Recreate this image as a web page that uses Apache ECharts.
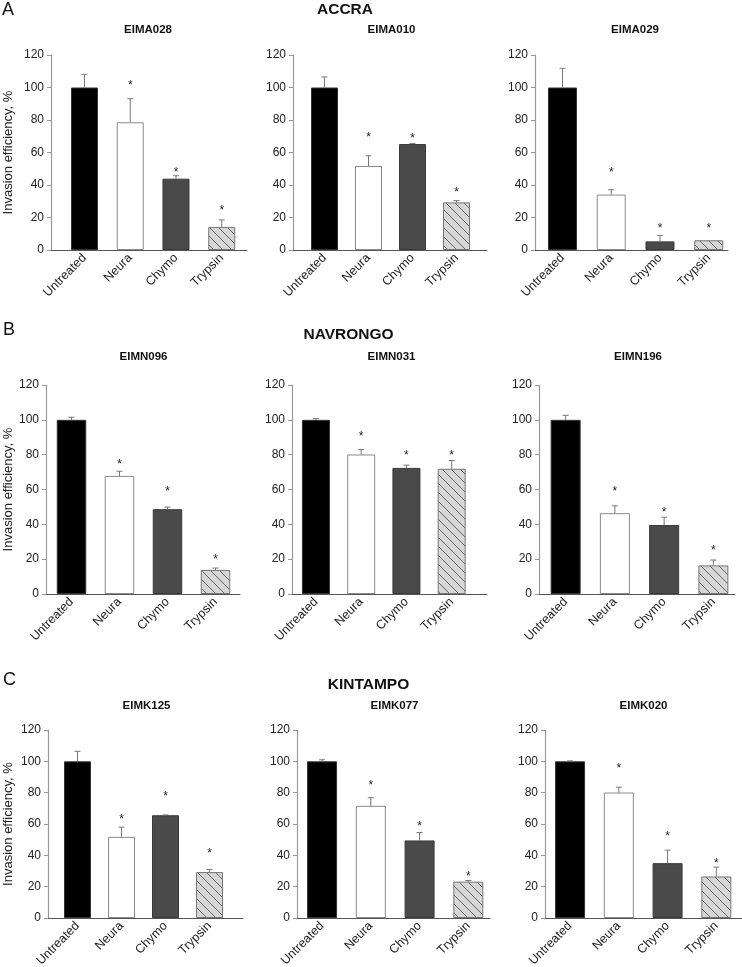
<!DOCTYPE html>
<html><head><meta charset="utf-8">
<script src="https://cdn.jsdelivr.net/npm/echarts@6/dist/echarts.min.js"></script>
<style>html,body{margin:0;padding:0;background:#fff}#c{width:742px;height:967px}</style>
</head><body><div id="c"></div>
<script>
// ---------- data ----------
const categories = ['Untreated', 'Neura', 'Chymo', 'Trypsin'];
const sections = ['ACCRA', 'NAVRONGO', 'KINTAMPO'];
const letters = ['A', 'B', 'C'];
const panelNames = ['EIMA028', 'EIMA010', 'EIMA029', 'EIMN096', 'EIMN031', 'EIMN196', 'EIMK125', 'EIMK077', 'EIMK020'];
const yAxisName = 'Invasion efficiency, %';

const meanEIMA028 = [100, 78.6, 43.9, 14.2];
const errEIMA028  = [8.1, 14.5, 1.8, 4.3];
const starEIMA028 = [null, 103, 49.6, 26.3];

const meanEIMA010 = [100, 51.7, 65.2, 29.3];
const errEIMA010  = [6.5, 6.3, 0.4, 1.1];
const starEIMA010 = [null, 70.8, 70.2, 37.3];

const meanEIMA029 = [100, 34.1, 5.3, 6.0];
const errEIMA029  = [11.8, 3.0, 3.7, 0];
const starEIMA029 = [null, 49.2, 15, 15];

const meanEIMN096 = [100, 67.8, 48.7, 13.8];
const errEIMN096  = [1.5, 2.7, 1.2, 1.1];
const starEIMN096 = [null, 75.7, 60.2, 21.4];

const meanEIMN031 = [100, 80.1, 72.4, 71.9];
const errEIMN031  = [0.7, 2.8, 1.6, 4.7];
const starEIMN031 = [null, 91.9, 81, 81];

const meanEIMN196 = [100, 46.4, 39.6, 16.4];
const errEIMN196  = [2.6, 4.2, 4.5, 3.1];
const starEIMN196 = [null, 60.2, 48.3, 26.8];

const meanEIMK125 = [100, 51.8, 65.6, 29.3];
const errEIMK125  = [6.4, 6.2, 0.2, 1.7];
const starEIMK125 = [null, 64.4, 79.4, 42.9];

const meanEIMK077 = [100, 71.6, 49.5, 23.2];
const errEIMK077  = [1.0, 5.2, 5.1, 0.7];
const starEIMK077 = [null, 86.1, 60.1, 28.1];

const meanEIMK020 = [100, 80.1, 35.0, 26.5];
const errEIMK020  = [0.3, 3.4, 8.3, 6.0];
const starEIMK020 = [null, 97.1, 53.7, 36.5];

const means = [meanEIMA028, meanEIMA010, meanEIMA029, meanEIMN096, meanEIMN031, meanEIMN196, meanEIMK125, meanEIMK077, meanEIMK020];
const errs  = [errEIMA028, errEIMA010, errEIMA029, errEIMN096, errEIMN031, errEIMN196, errEIMK125, errEIMK077, errEIMK020];
const stars = [starEIMA028, starEIMA010, starEIMA029, starEIMN096, starEIMN031, starEIMN196, starEIMK125, starEIMK077, starEIMK020];

// ---------- layout ----------
const rows = [{top: 55, bottom: 250, nameGap: 36}, {top: 385, bottom: 594, nameGap: 31}, {top: 730, bottom: 918, nameGap: 33}];
const axisSpan = [[51, 247], [293, 487], [535, 728], [46, 240], [292, 487], [539, 735], [48, 243], [297, 490], [545, 742]];
const barSpan = [[61.6, 183, 27], [302.5, 176, 27], [538.1, 195, 29], [47.5, 192, 29.5], [293.3, 181, 28], [541, 197, 30], [55.5, 176, 27], [297.7, 195, 30], [545.7, 195, 30]];
const letterPos = [[2, 1], [3, 321], [3, 671]];
const sectionPos = [[345, 2], [348.5, 327], [368.5, 677]];
const titlePos = [[148, 24], [391.5, 24], [635, 24], [143.5, 351], [391.5, 351], [638, 351], [146.5, 700], [394.5, 700], [643.5, 700]];

const FONT = '"Liberation Sans", Arial, Helvetica, sans-serif';

// hatch pattern
function makeHatch() {
  const s = 9, c = document.createElement('canvas');
  c.width = s; c.height = s;
  const g = c.getContext('2d');
  g.fillStyle = '#d6d6d6'; g.fillRect(0, 0, s, s);
  g.strokeStyle = '#5a5a5a'; g.lineWidth = 0.9;
  g.beginPath();
  g.moveTo(-1, -1); g.lineTo(s + 1, s + 1);
  g.moveTo(-1, s - 1); g.lineTo(1, s + 1);
  g.moveTo(s - 1, -1); g.lineTo(s + 1, 1);
  g.stroke();
  return c;
}
const hatch = {image: makeHatch(), repeat: 'repeat'};
const barColors = ['#000000', '#ffffff', '#4a4a4a', hatch];
const barBorders = ['#333333', '#8a8a8a', '#3a3a3a', '#777777'];

const grids = [], xAxes = [], yAxes = [], series = [], graphics = [];

for (let p = 0; p < 9; p++) {
  const r = rows[Math.floor(p / 3)];
  const h = r.bottom - r.top;
  const [ax0, ax1] = axisSpan[p];
  const [bl, bw, barW] = barSpan[p];
  // axis grid
  grids.push({left: ax0, top: r.top, width: ax1 - ax0, height: h, containLabel: false, outerBoundsMode: 'none'});
  xAxes.push({gridIndex: 2 * p, type: 'category', data: [''], axisTick: {show: false}, axisLabel: {show: false},
    axisLine: {show: true, lineStyle: {color: '#555', width: 1}}});
  yAxes.push({gridIndex: 2 * p, type: 'value', min: 0, max: 120, interval: 20, splitLine: {show: false},
    axisLine: {show: true, lineStyle: {color: '#999', width: 1.2}},
    axisTick: {show: true, length: 4, lineStyle: {color: '#999'}},
    axisLabel: {color: '#222', fontSize: 12, fontFamily: FONT, margin: 7},
    name: (p % 3 === 0) ? yAxisName : '', nameLocation: 'middle', nameGap: r.nameGap,
    nameTextStyle: {color: '#222', fontSize: 13, fontFamily: FONT}});
  // bar grid
  grids.push({left: bl, top: r.top, width: bw, height: h, containLabel: false, outerBoundsMode: 'none'});
  xAxes.push({gridIndex: 2 * p + 1, type: 'category', data: categories, axisLine: {show: false}, axisTick: {show: false},
    axisLabel: {rotate: 45, margin: 6, color: '#222', fontSize: 12.5, fontFamily: FONT, interval: 0}});
  yAxes.push({gridIndex: 2 * p + 1, type: 'value', min: 0, max: 120, show: false, splitLine: {show: false}});

  series.push({type: 'bar', xAxisIndex: 2 * p + 1, yAxisIndex: 2 * p + 1, barWidth: barW,
    data: means[p].map((v, i) => ({value: v, itemStyle: {color: barColors[i], borderColor: barBorders[i], borderWidth: 1}})),
    z: 2, silent: true});
  series.push({type: 'custom', xAxisIndex: 2 * p + 1, yAxisIndex: 2 * p + 1, z: 3, silent: true,
    data: means[p].map((v, i) => [i, v, errs[p][i]]),
    renderItem: function (params, api) {
      const m = api.value(1), e = api.value(2), i = api.value(0);
      if (!e) return null;
      const b = api.coord([i, m]), t = api.coord([i, m + e]);
      return {type: 'group', children: [
        {type: 'line', shape: {x1: b[0], y1: b[1], x2: t[0], y2: t[1]}, style: {stroke: '#777', lineWidth: 1}},
        {type: 'line', shape: {x1: t[0] - 3, y1: t[1], x2: t[0] + 3, y2: t[1]}, style: {stroke: '#777', lineWidth: 1}}
      ]};
    }});
  series.push({type: 'custom', xAxisIndex: 2 * p + 1, yAxisIndex: 2 * p + 1, z: 3, silent: true,
    data: stars[p].map((v, i) => [i, v]).filter(d => d[1] != null),
    renderItem: function (params, api) {
      const c = api.coord([api.value(0), api.value(1)]);
      return {type: 'text', x: c[0], y: c[1] + 3,
        style: {text: '*', textAlign: 'center', textVerticalAlign: 'middle', fontSize: 12, fontFamily: FONT, fill: '#222'}};
    }});
  graphics.push({type: 'text', x: titlePos[p][0], y: titlePos[p][1],
    style: {text: panelNames[p], textAlign: 'center', textVerticalAlign: 'top', fontSize: 11.5, fontWeight: 'bold', fontFamily: FONT, fill: '#111'}});
}
for (let s = 0; s < 3; s++) {
  graphics.push({type: 'text', x: letterPos[s][0], y: letterPos[s][1],
    style: {text: letters[s], textAlign: 'left', textVerticalAlign: 'top', fontSize: 18, fontFamily: FONT, fill: '#111'}});
  graphics.push({type: 'text', x: sectionPos[s][0], y: sectionPos[s][1],
    style: {text: sections[s], textAlign: 'center', textVerticalAlign: 'top', fontSize: 15.5, fontWeight: 'bold', fontFamily: FONT, fill: '#111'}});
}

const chart = echarts.init(document.getElementById('c'), null, {renderer: 'canvas'});
chart.setOption({
  animation: false,
  backgroundColor: '#ffffff',
  grid: grids, xAxis: xAxes, yAxis: yAxes, series: series,
  graphic: graphics
});
</script></body></html>
